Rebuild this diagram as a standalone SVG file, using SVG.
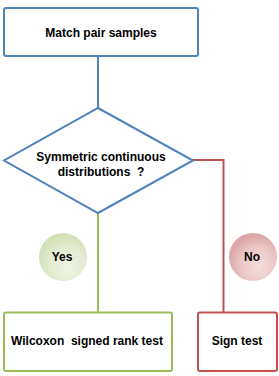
<svg xmlns="http://www.w3.org/2000/svg" width="279" height="376" viewBox="0 0 279 376">
<defs>
<style>
text{font-family:"Liberation Sans",Arial,sans-serif;font-size:12px;font-weight:bold;fill:#000;text-anchor:middle;dominant-baseline:central;white-space:pre}
.box{fill:#fff;stroke-width:2}
.b{stroke:#4f81bd}.g{stroke:#9bbb59}.r{stroke:#c0504d}
.c{fill:none;stroke-width:2}
</style>
<radialGradient id="gy" cx="0.6" cy="0.65" r="0.6" fx="0.62" fy="0.7">
<stop offset="0" stop-color="#eef3e3"/><stop offset="0.6" stop-color="#e4ecd3"/><stop offset="1" stop-color="#d3e1b8"/>
</radialGradient>
<radialGradient id="gn" cx="0.6" cy="0.65" r="0.6" fx="0.62" fy="0.7">
<stop offset="0" stop-color="#f3dedd"/><stop offset="0.6" stop-color="#ebc8c7"/><stop offset="1" stop-color="#dca7a6"/>
</radialGradient>
</defs>
<g id="connectors">
<line class="c b" x1="98" y1="56" x2="98" y2="108"/>
<line class="c g" x1="98" y1="213" x2="98" y2="312"/>
<polyline class="c r" points="193,160 223.5,160 223.5,312"/>
</g>
<g id="start"><rect class="box b" x="4" y="8" width="194" height="48" rx="2"/><text x="101" y="33">Match pair samples</text></g>
<g id="decision"><polygon class="box b" points="98,108 193,160.5 98,213 4,160.5"/><text x="101" y="157">Symmetric continuous</text><text x="101" y="172" xml:space="preserve">distributions  ?</text></g>
<g id="yes"><circle cx="63" cy="257" r="24" fill="url(#gy)"/><text x="62" y="257">Yes</text></g>
<g id="no"><circle cx="253" cy="257" r="24" fill="url(#gn)"/><text x="252" y="257">No</text></g>
<g id="wilcoxon"><rect class="box g" x="4" y="312.5" width="168" height="58.5" rx="2"/><text x="87" y="341" xml:space="preserve">Wilcoxon  signed rank test</text></g>
<g id="sign"><rect class="box r" x="198" y="312.5" width="79" height="58.5" rx="2"/><text x="237" y="341">Sign test</text></g>
</svg>
